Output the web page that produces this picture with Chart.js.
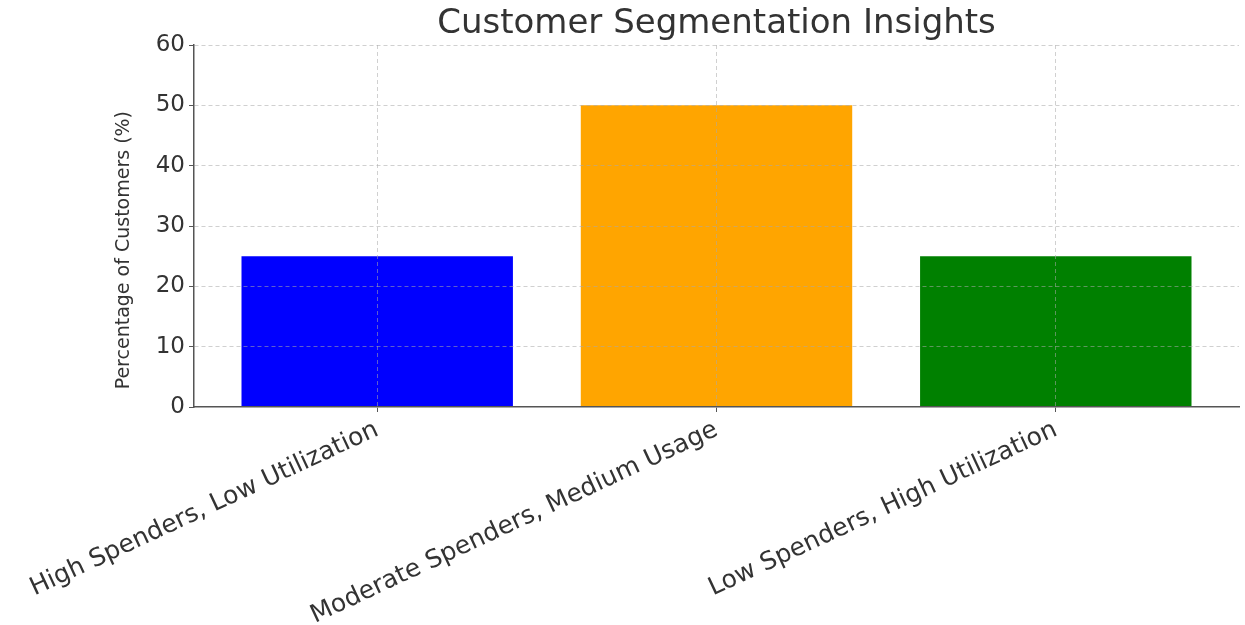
<!DOCTYPE html>
<html>
<head>
<meta charset="utf-8">
<title>Customer Segmentation Insights</title>
<script src="https://cdn.jsdelivr.net/npm/chart.js@4/dist/chart.umd.min.js"></script>
<style>
  html, body { margin: 0; padding: 0; background: #fff; }
  #wrap { width: 1245px; height: 625px; }
</style>
</head>
<body>
<div id="wrap"><canvas id="segChart" width="1245" height="625"></canvas></div>
<script>
const segments = ['High Spenders, Low Utilization', 'Moderate Spenders, Medium Usage', 'Low Spenders, High Utilization'];
const percentages = [25, 50, 25];
const barColors = ['#0000ff', '#ffa500', '#008000'];
const yTicks = [0, 10, 20, 30, 40, 50, 60];

const font = 'DejaVu Sans';
const textColor = '#333';
const gridColor = 'rgba(170,170,170,0.55)';
const axisColor = '#555';

const points = segments.map(function (s, i) { return { x: i, y: percentages[i] }; });

// the reference label sits a bit below the plot centre, so pad its end
const yTitle = 'Percentage of Customers (%)' + '\u00a0'.repeat(8);

new Chart(document.getElementById('segChart'), {
  type: 'bar',
  data: {
    datasets: [{
      data: points,
      backgroundColor: barColors,
      borderWidth: 0,
      categoryPercentage: 1,
      barPercentage: 0.8
    }]
  },
  options: {
    responsive: false,
    animation: false,
    layout: { padding: { left: 0, right: 6, top: 0, bottom: 0 } },
    plugins: {
      legend: { display: false },
      tooltip: { enabled: false },
      title: {
        display: true,
        text: 'Customer Segmentation Insights',
        fullSize: false,
        color: textColor,
        font: { family: font, size: 34, weight: 'normal' },
        padding: { top: 4, bottom: 0.2 }
      }
    },
    scales: {
      x: {
        type: 'linear',
        min: -0.54,
        max: 2.54,
        offset: false,
        afterBuildTicks: function (s) { s.ticks = segments.map(function (c, i) { return { value: i }; }); },
        afterFit: function (s) {
          s.height = 218;
          // long rotated labels must not push the plot area to the right
          s.paddingLeft = 0;
          s.paddingRight = 0;
        },
        grid: { offset: false, color: gridColor, z: 1, tickColor: axisColor, tickLength: 5, tickBorderDash: [] },
        border: { display: true, color: axisColor, width: 1.5, dash: [4, 3], z: 1 },
        ticks: {
          autoSkip: false,
          minRotation: 25,
          maxRotation: 25,
          padding: 3,
          color: textColor,
          font: { family: font, size: 25 },
          callback: function (v) { return segments[v]; }
        }
      },
      y: {
        min: 0,
        max: 60,
        afterBuildTicks: function (s) { s.ticks = yTicks.map(function (v) { return { value: v }; }); },
        afterFit: function (s) { s.width = 194; },
        grid: { color: gridColor, z: 1, tickColor: axisColor, tickLength: 5, tickBorderDash: [] },
        border: { display: true, color: axisColor, width: 1.5, dash: [4, 3], z: 1 },
        ticks: {
          padding: 4,
          color: textColor,
          font: { family: font, size: 23 }
        },
        title: {
          display: true,
          text: yTitle,
          color: textColor,
          font: { family: font, size: 19 },
          padding: { top: 113, bottom: 0 }
        }
      }
    }
  }
});
</script>
</body>
</html>
